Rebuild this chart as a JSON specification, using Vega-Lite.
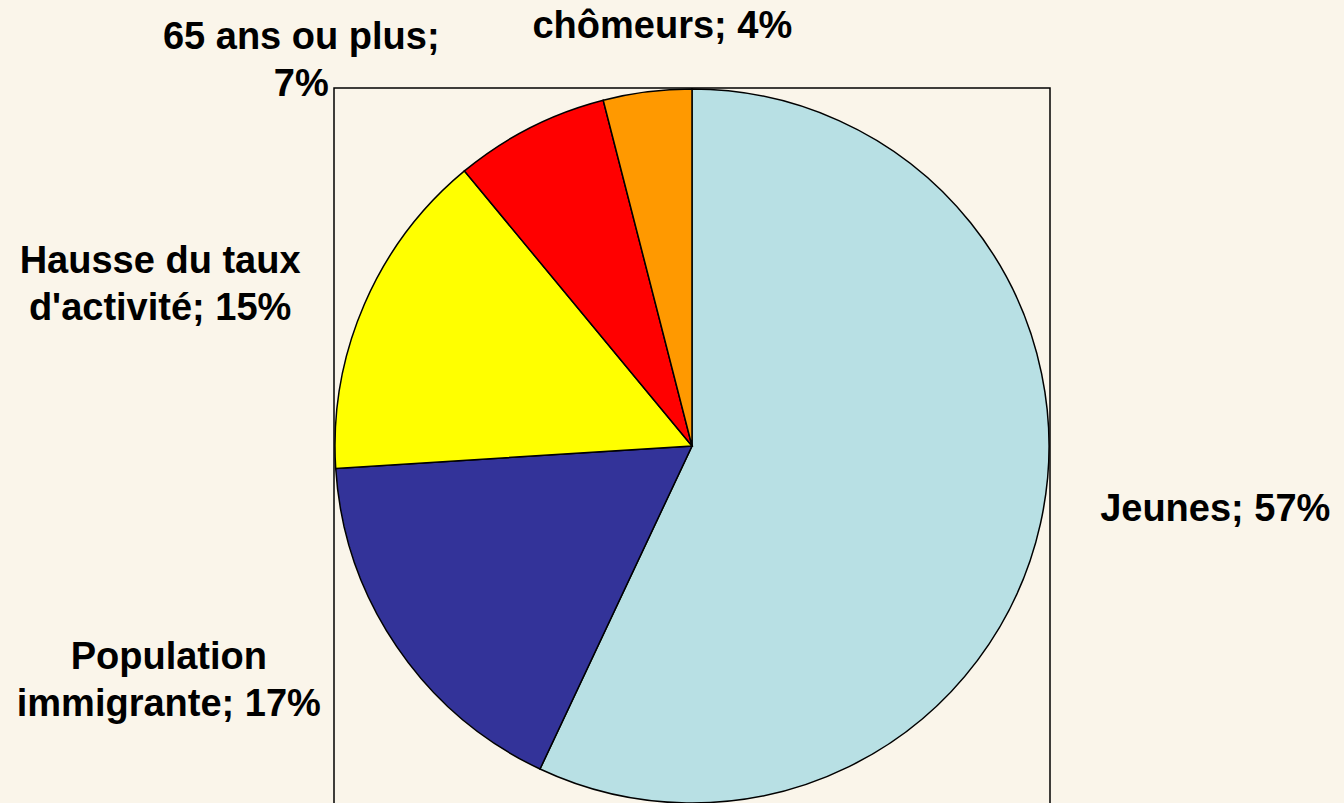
{
  "$schema": "https://vega.github.io/schema/vega-lite/v6.json",
  "width": 716,
  "height": 716,
  "autosize": {"type": "none"},
  "padding": {"left": 334, "top": 88, "right": 294, "bottom": 0},
  "background": "#FAF5EA",
  "view": {"stroke": "black", "strokeWidth": 1.5},
  "config": {
    "view": {"stroke": "black", "strokeWidth": 1.5},
    "text": {"font": "Liberation Sans", "fontWeight": "bold", "fontSize": 38, "lineHeight": 47, "baseline": "middle", "color": "black"}
  },
  "data": {
    "values": [
      {"cat": "Jeunes", "label": "Jeunes; 57%", "value": 57, "order": 1},
      {"cat": "Population immigrante", "label": "Population\nimmigrante; 17%", "value": 17, "order": 2},
      {"cat": "Hausse du taux d'activité", "label": "Hausse du taux\nd'activité; 15%", "value": 15, "order": 3},
      {"cat": "65 ans ou plus", "label": "65 ans ou plus;\n7%", "value": 7, "order": 4},
      {"cat": "chômeurs", "label": "chômeurs; 4%", "value": 4, "order": 5}
    ]
  },
  "encoding": {
    "theta": {"field": "value", "type": "quantitative", "stack": true},
    "order": {"field": "order", "type": "quantitative"}
  },
  "layer": [
    {
      "mark": {"type": "arc", "outerRadius": 357, "stroke": "black", "strokeWidth": 1.5},
      "encoding": {
        "color": {
          "field": "cat",
          "type": "nominal",
          "scale": {
            "domain": ["Jeunes", "Population immigrante", "Hausse du taux d'activité", "65 ans ou plus", "chômeurs"],
            "range": ["#B8E0E4", "#333399", "#FFFF00", "#FF0000", "#FF9900"]
          },
          "legend": null
        }
      }
    },
    {
      "mark": {"type": "text", "radius": 410, "align": "left", "dx": 8, "dy": -25, "lineBreak": "\n"},
      "encoding": {"text": {"condition": {"test": "datum.cat === 'Jeunes'", "field": "label"}, "value": ""}}
    },
    {
      "mark": {"type": "text", "radius": 450, "align": "center", "dx": -151, "dy": -41, "lineBreak": "\n"},
      "encoding": {"text": {"condition": {"test": "datum.cat === 'Population immigrante'", "field": "label"}, "value": ""}}
    },
    {
      "mark": {"type": "text", "radius": 427, "align": "center", "dx": -140, "dy": -14, "lineBreak": "\n"},
      "encoding": {"text": {"condition": {"test": "datum.cat === \"Hausse du taux d'activité\"", "field": "label"}, "value": ""}}
    },
    {
      "mark": {"type": "text", "radius": 440, "align": "center", "dx": -191, "dy": -16, "lineBreak": "\n"},
      "encoding": {"text": {"condition": {"test": "datum.cat === '65 ans ou plus'", "field": "label"}, "value": ""}}
    },
    {
      "mark": {"type": "text", "radius": 420, "align": "center", "dx": 23, "dy": -2, "lineBreak": "\n"},
      "encoding": {"text": {"condition": {"test": "datum.cat === 'chômeurs'", "field": "label"}, "value": ""}}
    }
  ]
}
